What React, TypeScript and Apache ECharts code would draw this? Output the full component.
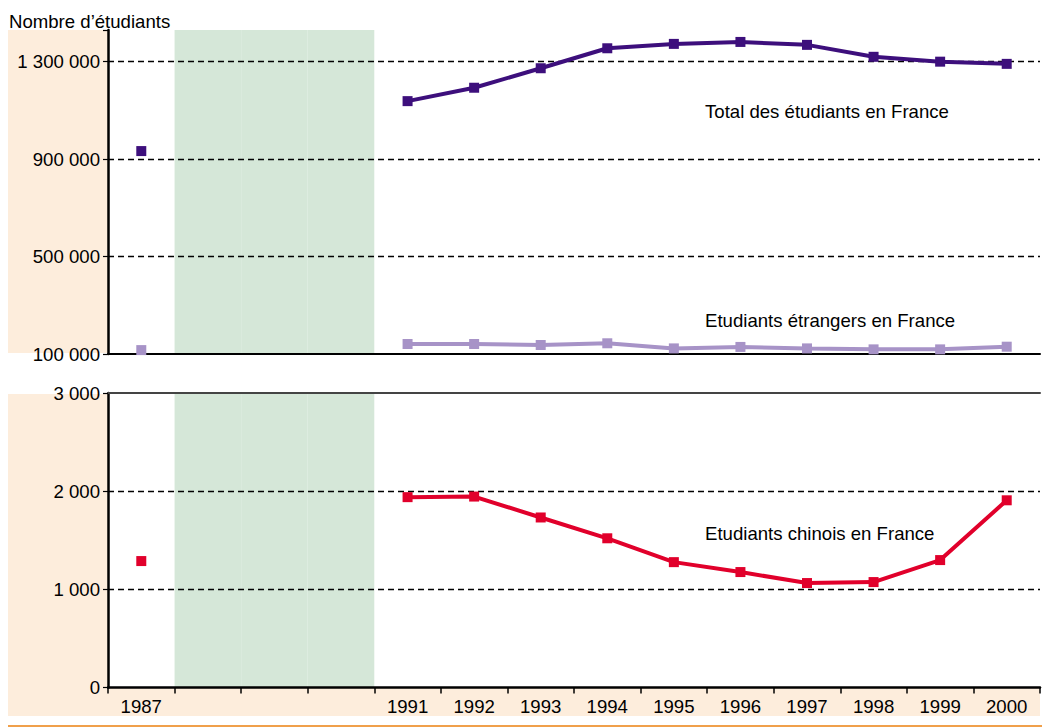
import React, { useEffect, useRef } from "react";
import * as echarts from "echarts";

const years = ["1987", "1988", "1989", "1990", "1991", "1992", "1993", "1994", "1995", "1996", "1997", "1998", "1999", "2000"];
const totalStudents = [933000, null, null, null, 1138000, 1193000, 1273000, 1355000, 1373000, 1381000, 1369000, 1320000, 1300000, 1291000];
const foreignStudents = [116000, null, null, null, 141000, 141000, 137000, 144000, 123000, 129000, 123000, 119000, 119000, 130000];
const chineseStudents = [1288, null, null, null, 1939, 1945, 1732, 1520, 1277, 1176, 1064, 1074, 1298, 1907];
const topTicks = [100000, 500000, 900000, 1300000];
const bottomTicks = [0, 1000, 2000, 3000];
const shadedYears = ["1988", "1989", "1990"];

const FONT = "'Liberation Sans', Arial, Helvetica, sans-serif";
const FS = 18.6;
const GREEN = "#d5e7d8";
const PEACH = "#fdeddc";

const fmt = (v: number) => String(v).replace(/\B(?=(\d{3})+(?!\d))/g, " ");

export default function App() {
  const ref = useRef<HTMLDivElement>(null);
  useEffect(() => {
    if (!ref.current) return;
    const chart = echarts.init(ref.current, undefined, { renderer: "svg" });
    const bandColors = years.map((y) => (shadedYears.includes(y) ? GREEN : "rgba(0,0,0,0)"));
    const dashed = { show: true, lineStyle: { color: "#000", type: [6, 4] as any, width: 1.3 }, showMaxLine: false, showMinLine: false };
    const option: any = {
      animation: false,
      textStyle: { fontFamily: FONT },
      grid: [
        { left: 108, top: 30, right: 2, height: 324 },
        { left: 108, top: 393, right: 2, height: 294.5 },
      ],
      xAxis: [
        {
          gridIndex: 0, type: "category", data: years, position: "bottom", z: -1,
          axisLine: { show: true, lineStyle: { color: "#000", width: 2 } },
          axisTick: { show: false }, axisLabel: { show: false },
          splitLine: { show: false },
          splitArea: { show: true, areaStyle: { color: bandColors } },
        },
        {
          gridIndex: 1, type: "category", data: years, position: "bottom", z: -1,
          axisLine: { show: true, onZero: false, lineStyle: { color: "#000", width: 2.5 } },
          axisTick: { show: true, length: 6, lineStyle: { color: "#000", width: 1.5 } },
          axisLabel: {
            fontSize: FS, color: "#000", margin: 9, fontFamily: FONT, interval: 0,
            formatter: (v: string) => (shadedYears.includes(v) ? "" : v),
          },
          splitLine: { show: false },
          splitArea: { show: true, areaStyle: { color: bandColors } },
        },
        {
          gridIndex: 1, type: "category", data: years, position: "top",
          axisLine: { show: true, onZero: false, lineStyle: { color: "#444", width: 2 } },
          axisTick: { show: false }, axisLabel: { show: false }, splitLine: { show: false },
        },
      ],
      yAxis: [
        {
          gridIndex: 0, type: "value", min: 100000, max: 1430000, interval: 400000,
          axisLine: { show: true, lineStyle: { color: "#000", width: 2.5 } },
          axisTick: { show: true, length: 5, lineStyle: { color: "#000", width: 1.2 } },
          axisLabel: { fontSize: FS, color: "#000", margin: 8, formatter: (v: number) => (topTicks.includes(v) ? fmt(v) : ""), fontFamily: FONT },
          splitLine: dashed,
        },
        {
          gridIndex: 1, type: "value", min: 0, max: 3000, interval: 1000,
          axisLine: { show: true, lineStyle: { color: "#000", width: 2.5 } },
          axisTick: { show: true, length: 5, lineStyle: { color: "#000", width: 1.2 } },
          axisLabel: { fontSize: FS, color: "#000", margin: 8, formatter: (v: number) => (bottomTicks.includes(v) ? fmt(v) : ""), fontFamily: FONT },
          splitLine: dashed,
        },
      ],
      series: [
        {
          name: "Total des étudiants en France", type: "line", xAxisIndex: 0, yAxisIndex: 0,
          data: totalStudents, symbol: "rect", symbolSize: 10, showAllSymbol: true, connectNulls: false,
          lineStyle: { color: "#3d0f7c", width: 4 }, itemStyle: { color: "#3d0f7c" }, z: 5,
        },
        {
          name: "Etudiants étrangers en France", type: "line", xAxisIndex: 0, yAxisIndex: 0,
          data: foreignStudents, symbol: "rect", symbolSize: 10, showAllSymbol: true, connectNulls: false,
          lineStyle: { color: "#a793c7", width: 4 }, itemStyle: { color: "#a793c7" }, z: 5,
        },
        {
          name: "Etudiants chinois en France", type: "line", xAxisIndex: 1, yAxisIndex: 1,
          data: chineseStudents, symbol: "rect", symbolSize: 10, showAllSymbol: true, connectNulls: false,
          lineStyle: { color: "#e1002b", width: 4 }, itemStyle: { color: "#e1002b" }, z: 5,
        },
      ],
      graphic: [
        { type: "rect", z: -10, silent: true, shape: { x: 8, y: 30, width: 100, height: 323 }, style: { fill: PEACH } },
        { type: "rect", z: -10, silent: true, shape: { x: 8, y: 394, width: 100, height: 294 }, style: { fill: PEACH } },
        { type: "rect", z: -10, silent: true, shape: { x: 8, y: 688, width: 1032, height: 28 }, style: { fill: PEACH } },
        { type: "rect", z: -10, silent: true, shape: { x: 8, y: 725, width: 1034, height: 3 }, style: { fill: "#f0a04b" } },
        { type: "text", x: 9, y: 21, style: { text: "Nombre d’étudiants", fontSize: FS, fontFamily: FONT, fill: "#000", verticalAlign: "middle" } },
        { type: "text", x: 705, y: 111, style: { text: "Total des étudiants en France", fontSize: FS, fontFamily: FONT, fill: "#000", verticalAlign: "middle" } },
        { type: "text", x: 705, y: 320, style: { text: "Etudiants étrangers en France", fontSize: FS, fontFamily: FONT, fill: "#000", verticalAlign: "middle" } },
        { type: "text", x: 705, y: 533, style: { text: "Etudiants chinois en France", fontSize: FS, fontFamily: FONT, fill: "#000", verticalAlign: "middle" } },
      ],
    };
    chart.setOption(option);
    return () => chart.dispose();
  }, []);
  return <div ref={ref} style={{ position: "absolute", left: 0, top: 0, width: 1042, height: 727, background: "#fff" }} />;
}
